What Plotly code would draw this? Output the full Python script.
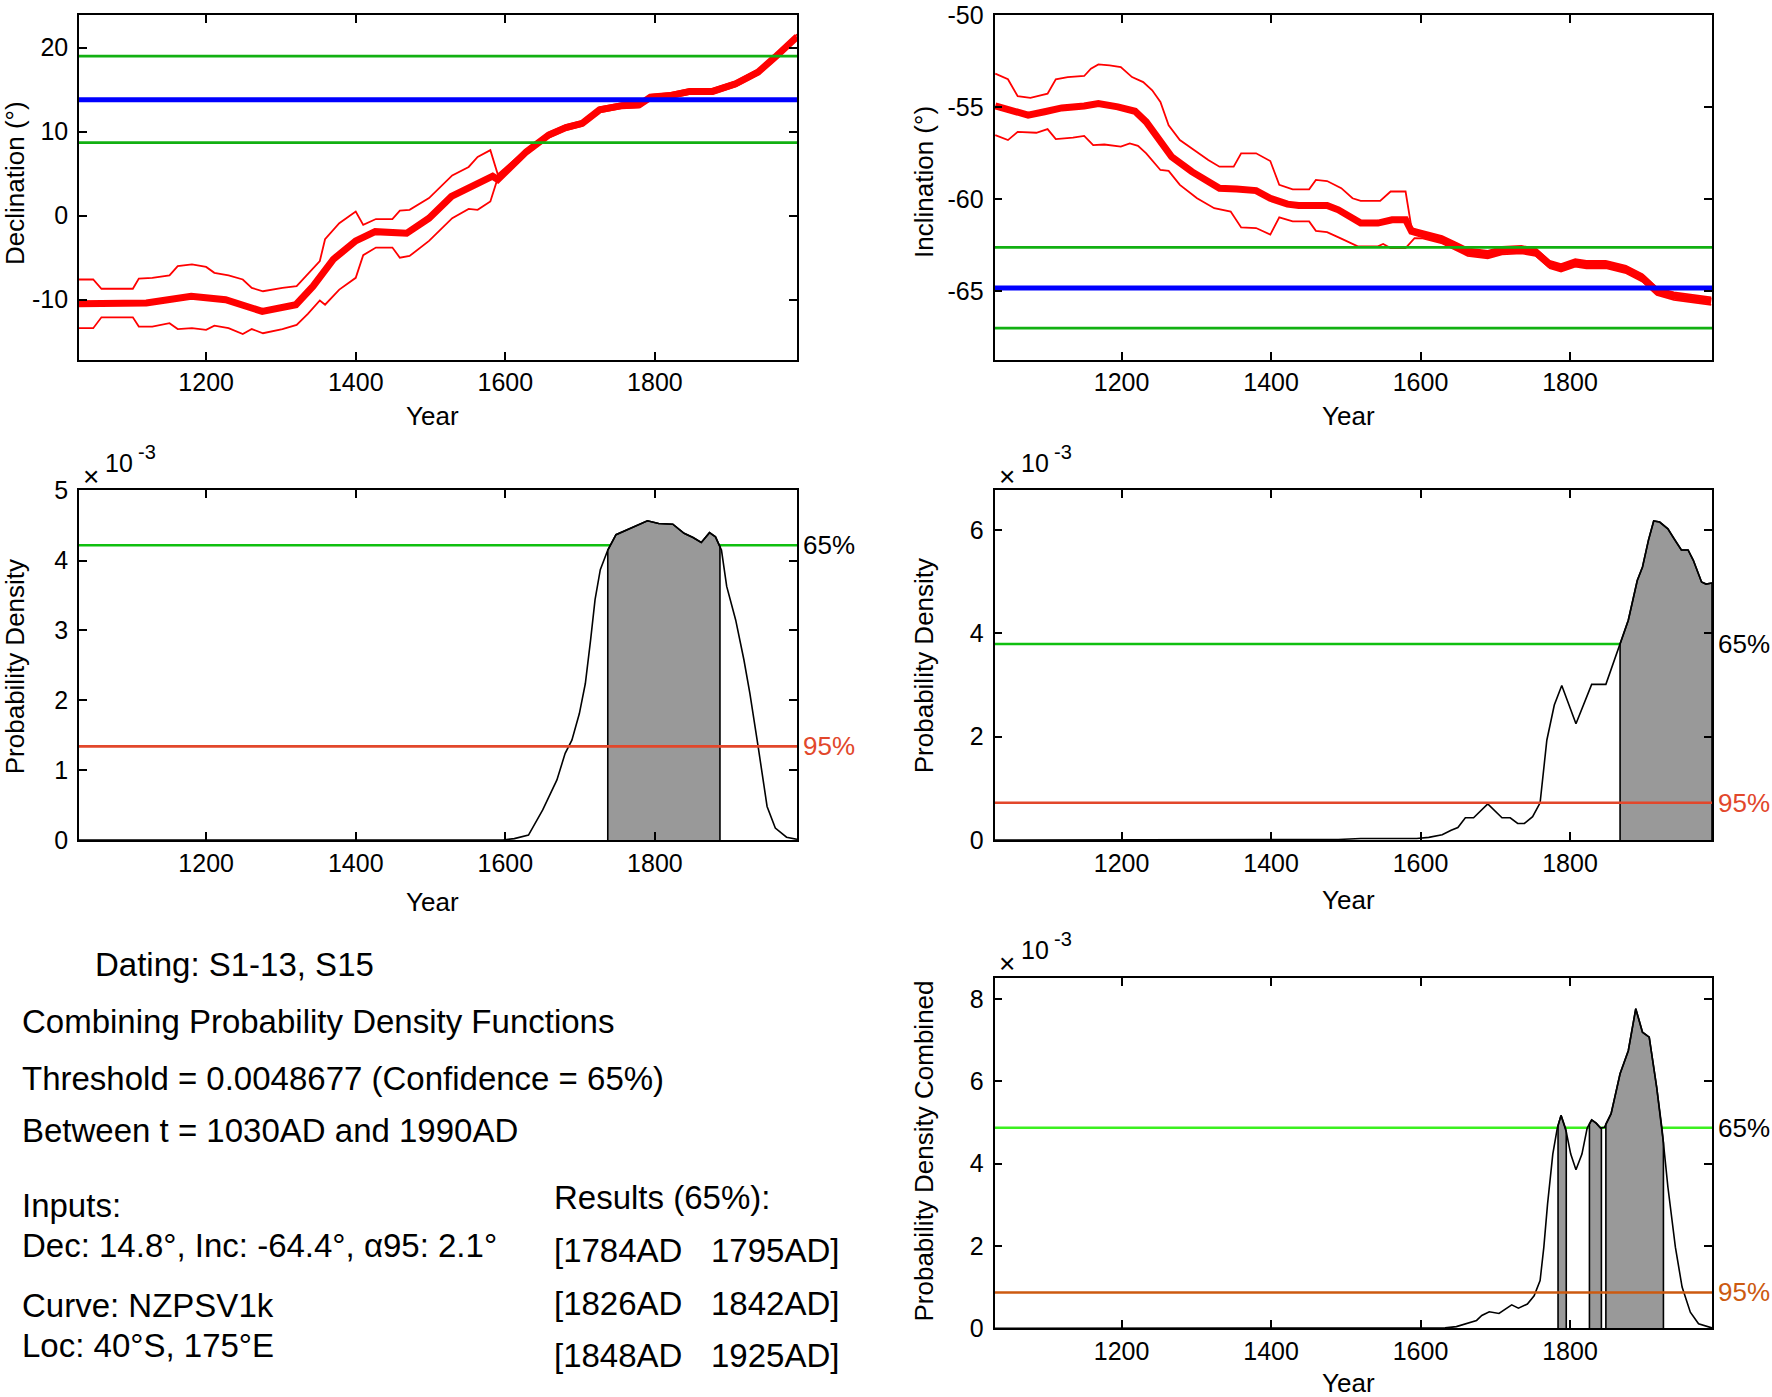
import numpy as np
import plotly.graph_objects as go

W = 1772          # reference width (px)
Y0, HV = 11.8, 1371.0   # vertical placement of the rendered page inside the picture

# ---------------- data ----------------
# Declination curve (NZPSV1k) mean and bounds
dec_years = [1030,1120,1180,1226,1275,1320,1343,1370,1400,1426,1468,1498,1528,1558,1583,1590,1628,1658,1681,1703,1726,1756,1779,1794,1820,1847,1877,1908,1938,1961,1990]
dec_mean = [-10.5,-10.4,-9.6,-10.0,-11.4,-10.6,-8.4,-5.2,-3.0,-1.9,-2.1,-0.3,2.3,3.7,4.7,4.3,7.6,9.6,10.5,11.0,12.6,13.1,13.2,14.1,14.3,14.8,14.8,15.7,17.1,18.9,21.3]
dec_bnd_years = [1030,1049,1060,1102,1110,1128,1151,1162,1181,1200,1211,1230,1249,1261,1276,1302,1321,1336,1352,1359,1378,1400,1410,1427,1449,1459,1472,1498,1529,1551,1563,1580,1590,1628,1658,1681,1703,1726,1756,1779,1794,1820,1847,1877,1908,1938,1961,1990]
dec_upper = [-7.6,-7.6,-8.7,-8.7,-7.5,-7.4,-7.1,-6.0,-5.8,-6.1,-6.8,-7.1,-7.6,-8.6,-9.0,-8.6,-8.4,-7.0,-5.4,-2.8,-0.9,0.5,-1.1,-0.4,-0.4,0.6,0.7,2.1,4.8,5.8,7.0,7.8,4.9,7.9,9.9,10.8,11.3,12.9,13.4,13.5,14.4,14.6,15.1,15.1,16.0,17.4,19.2,21.6]
dec_lower = [-13.4,-13.4,-12.1,-12.1,-13.2,-13.2,-12.8,-13.5,-13.4,-13.6,-13.1,-13.4,-14.1,-13.5,-14.0,-13.5,-13.0,-11.7,-10.1,-10.6,-8.8,-7.4,-4.7,-3.8,-3.8,-5.0,-4.8,-3.0,-0.3,0.8,0.7,1.7,4.5,7.3,9.3,10.2,10.7,12.3,12.8,12.9,13.8,14.0,14.5,14.5,15.4,16.8,18.6,21.0]
dec_input = 13.8
dec_limits = [8.7, 19.0]
dec_ticks = [-10, 0, 10, 20]
dec_ticktext = ["-10", "0", "10", "20"]

# Inclination curve mean and bounds
inc_years = [1031,1048,1075,1097,1120,1150,1169,1195,1218,1233,1248,1267,1294,1316,1331,1354,1380,1399,1422,1437,1475,1490,1505,1520,1543,1562,1580,1588,1603,1629,1648,1663,1690,1709,1735,1754,1773,1788,1807,1822,1848,1875,1897,1916,1939,1965,1989]
inc_mean = [-54.92,-55.15,-55.42,-55.24,-55.03,-54.92,-54.79,-54.97,-55.21,-55.79,-56.69,-57.69,-58.50,-59.04,-59.40,-59.44,-59.53,-59.95,-60.27,-60.34,-60.34,-60.58,-60.94,-61.30,-61.30,-61.12,-61.12,-61.75,-61.93,-62.21,-62.57,-62.88,-63.02,-62.80,-62.75,-62.88,-63.56,-63.74,-63.47,-63.56,-63.56,-63.83,-64.29,-65.01,-65.28,-65.42,-65.55]
inc_up_years = [1031,1048,1061,1078,1101,1112,1128,1150,1159,1169,1184,1199,1214,1229,1241,1252,1263,1278,1297,1316,1331,1350,1360,1380,1399,1411,1429,1451,1460,1475,1494,1509,1520,1546,1560,1580,1588,1603,1629,1648,1663,1690,1709,1735,1754,1773,1788,1807,1822,1848,1875,1897,1916,1939,1965,1989]
inc_upper = [-53.16,-53.47,-54.39,-54.48,-54.25,-53.47,-53.35,-53.29,-52.89,-52.66,-52.71,-52.80,-53.35,-53.62,-54.07,-54.70,-55.97,-56.78,-57.32,-57.87,-58.23,-58.23,-57.50,-57.50,-57.92,-59.22,-59.46,-59.46,-58.95,-59.01,-59.40,-59.95,-60.09,-60.09,-59.58,-59.58,-61.57,-61.73,-62.01,-62.37,-62.68,-62.82,-62.60,-62.55,-62.68,-63.36,-63.54,-63.27,-63.36,-63.36,-63.63,-64.09,-64.81,-65.08,-65.22,-65.35]
inc_lo_years = [1031,1048,1061,1086,1101,1112,1135,1150,1162,1177,1199,1211,1222,1233,1252,1263,1278,1301,1324,1346,1360,1380,1399,1411,1429,1451,1460,1475,1494,1516,1543,1550,1560,1580,1592,1603,1629,1648,1663,1690,1709,1735,1754,1773,1788,1807,1822,1848,1875,1897,1916,1939,1965,1989]
inc_lower = [-56.51,-56.78,-56.33,-56.38,-56.18,-56.73,-56.65,-56.55,-57.05,-57.02,-57.14,-56.96,-57.09,-57.50,-58.41,-58.46,-59.22,-59.95,-60.49,-60.67,-61.54,-61.57,-61.93,-60.99,-61.21,-61.21,-61.72,-61.79,-62.15,-62.57,-62.57,-62.44,-62.66,-62.66,-62.12,-62.13,-62.41,-62.77,-63.08,-63.22,-63.00,-62.95,-63.08,-63.76,-63.94,-63.67,-63.76,-63.76,-64.03,-64.49,-65.21,-65.48,-65.62,-65.75]
inc_input = -64.83
inc_limits = [-62.62, -67.02]
inc_ticks = [-65, -60, -55, -50]
inc_ticktext = ["-65", "-60", "-55", "-50"]

# Probability densities (x 10^-3)
dpdf_years = [1030,1597,1612,1631,1650,1669,1680,1689,1699,1707,1714,1720,1727,1737,1748,1764,1790,1805,1824,1839,1851,1862,1873,1881,1889,1896,1908,1919,1927,1938,1950,1961,1976,1990]
dec_pdf = [0,0,0.02,0.07,0.43,0.86,1.24,1.43,1.81,2.24,2.86,3.44,3.87,4.15,4.37,4.45,4.57,4.53,4.52,4.39,4.33,4.26,4.40,4.34,4.15,3.63,3.15,2.58,2.10,1.34,0.48,0.17,0.04,0.01]
dec_thr = {"65%": 4.22, "95%": 1.34}
dec_intervals = [[1737, 1887]]

ipdf_years = [1030,1490,1520,1565,1595,1611,1629,1641,1650,1660,1671,1690,1701,1709,1720,1730,1739,1750,1760,1769,1779,1789,1808,1829,1848,1867,1878,1890,1897,1905,1912,1920,1931,1939,1949,1958,1965,1976,1982,1990]
inc_pdf = [0,0.01,0.03,0.03,0.03,0.05,0.10,0.19,0.24,0.43,0.43,0.70,0.55,0.43,0.43,0.32,0.32,0.45,0.72,1.93,2.61,2.99,2.25,3.01,3.01,3.79,4.25,5.02,5.28,5.80,6.17,6.15,6.02,5.83,5.61,5.61,5.41,4.99,4.95,4.97]
inc_thr = {"65%": 3.79, "95%": 0.72}
inc_intervals = [[1867, 1990]]

cpdf_years = [1030,1633,1648,1663,1675,1682,1692,1705,1716,1722,1731,1743,1752,1760,1765,1770,1777,1783,1788,1794,1801,1808,1816,1823,1829,1835,1841,1846,1855,1867,1878,1888,1897,1906,1916,1923,1931,1941,1950,1961,1972,1990]
comb_pdf = [0,0.01,0.04,0.12,0.19,0.31,0.40,0.36,0.51,0.57,0.49,0.59,0.79,1.16,1.97,3.02,4.23,4.86,5.17,4.86,4.23,3.85,4.23,4.86,5.06,4.98,4.86,4.88,5.21,6.18,6.74,7.76,7.19,7.07,5.85,4.86,3.43,1.97,1.00,0.39,0.11,0.01]
comb_thr = {"65%": 4.8677, "95%": 0.87}
comb_intervals = [[1784, 1795], [1826, 1842], [1848, 1925]]

year_ticks = [1200, 1400, 1600, 1800]

text_lines = [
    ("Dating: S1-13, S15", 93, 964),
    ("Combining Probability Density Functions", 20, 1021),
    ("Threshold = 0.0048677 (Confidence = 65%)", 20, 1078),
    ("Between t = 1030AD and 1990AD", 20, 1130),
    ("Inputs:", 20, 1205),
    ("Dec: 14.8°, Inc: -64.4°, α95: 2.1°", 20, 1245),
    ("Curve: NZPSV1k", 20, 1305),
    ("Loc: 40°S, 175°E", 20, 1345),
    ("Results (65%):", 552, 1197),
]
result_rows = [("[1784AD", "1795AD]", 1250), ("[1826AD", "1842AD]", 1303), ("[1848AD", "1925AD]", 1355)]

# ---------------- styling ----------------
FONT = "Liberation Sans, Arial, sans-serif"
TICKF = 25
AX = 26
TXT = 33
RED = "#ff0000"
BLUE = "#0000ff"
GREEN_TOP = "#12b012"
GREEN_PDF = "#10c010"
RED_PDF = "#e2472b"
GREEN_C = "#3cf020"
RED_C = "#cc5a10"
GRAY = "#999999"

def fy(t):
    # picture pixel row (from top) -> paper fraction
    return min(1.0, max(0.0, 1 - (t - Y0) / HV))

def px(x, y):
    return x / W, fy(y)

xA = [79 / W, 797 / W]
xB = [994.5 / W, 1712 / W]
r1 = [fy(358), fy(13.2)]
r2 = [fy(839), fy(488.5)]
r3 = [fy(1328), fy(977)]

fig = go.Figure()

def line(x, y, xa, ya, color, width):
    fig.add_trace(go.Scatter(x=x, y=y, xaxis=xa, yaxis=ya, mode="lines",
                             line=dict(color=color, width=width), hoverinfo="skip", showlegend=False))

def hline(yv, xa, ya, color, width):
    line([1030, 1990], [yv, yv], xa, ya, color, width)

# Panel 1: declination
line(dec_bnd_years, dec_upper, "x", "y", RED, 1.8)
line(dec_bnd_years, dec_lower, "x", "y", RED, 1.8)
line(dec_years, dec_mean, "x", "y", RED, 7)
for v in dec_limits:
    hline(v, "x", "y", GREEN_TOP, 2.8)
hline(dec_input, "x", "y", BLUE, 5)

# Panel 2: inclination
line(inc_up_years, inc_upper, "x2", "y2", RED, 1.8)
line(inc_lo_years, inc_lower, "x2", "y2", RED, 1.8)
line(inc_years, inc_mean, "x2", "y2", RED, 7)
for v in inc_limits:
    hline(v, "x2", "y2", GREEN_TOP, 2.8)
hline(inc_input, "x2", "y2", BLUE, 5)

def pdf_panel(xs, ys, intervals, thr, xa, ya, gcol, rcol):
    xs = np.array(xs, float)
    ys = np.array(ys, float)
    hline(thr["65%"], xa, ya, gcol, 2.6)
    for a, b in intervals:
        m = (xs > a) & (xs < b)
        px_ = np.concatenate([[a, a], xs[m], [b, b]])
        py_ = np.concatenate([[0, np.interp(a, xs, ys)], ys[m], [np.interp(b, xs, ys), 0]])
        fig.add_trace(go.Scatter(x=px_, y=py_, xaxis=xa, yaxis=ya, mode="lines", fill="toself",
                                 fillcolor=GRAY, line=dict(color="black", width=1.6),
                                 hoverinfo="skip", showlegend=False))
    line(xs, ys, xa, ya, "black", 1.6)
    hline(thr["95%"], xa, ya, rcol, 2.6)

pdf_panel(dpdf_years, dec_pdf, dec_intervals, dec_thr, "x3", "y3", GREEN_PDF, RED_PDF)
pdf_panel(ipdf_years, inc_pdf, inc_intervals, inc_thr, "x4", "y4", GREEN_PDF, RED_PDF)
pdf_panel(cpdf_years, comb_pdf, comb_intervals, comb_thr, "x5", "y5", GREEN_C, RED_C)

def xax(dom, anchor):
    return dict(domain=dom, anchor=anchor, range=[1030, 1990], tickvals=year_ticks,
                ticks="inside", ticklen=8, tickwidth=1.5, tickcolor="black",
                showline=True, linecolor="black", linewidth=1.6, mirror="ticks",
                showgrid=False, zeroline=False, tickfont=dict(family=FONT, size=TICKF, color="black"),
                ticklabelstandoff=0, fixedrange=True)

def yax(dom, anchor, rng, tv, tt=None):
    d = dict(domain=dom, anchor=anchor, range=rng, tickvals=tv,
             ticks="inside", ticklen=8, tickwidth=1.5, tickcolor="black",
             showline=True, linecolor="black", linewidth=1.6, mirror="ticks",
             showgrid=False, zeroline=False, tickfont=dict(family=FONT, size=TICKF, color="black"),
             ticklabelstandoff=4, fixedrange=True)
    if tt is not None:
        d["ticktext"] = tt
    return d

fig.update_layout(
    autosize=True, margin=dict(l=0, r=0, t=0, b=0, pad=0),
    paper_bgcolor="white", plot_bgcolor="white", showlegend=False,
    font=dict(family=FONT, color="black"),
    xaxis=xax(xA, "y"), yaxis=yax(r1, "x", [-17.15, 23.85], dec_ticks, dec_ticktext),
    xaxis2=xax(xB, "y2"), yaxis2=yax(r1, "x2", [-68.74, -49.99], inc_ticks, inc_ticktext),
    xaxis3=xax(xA, "y3"), yaxis3=yax(r2, "x3", [0, 5.01], [0, 1, 2, 3, 4, 5]),
    xaxis4=xax(xB, "y4"), yaxis4=yax(r2, "x4", [0, 6.77], [0, 2, 4, 6]),
    xaxis5=xax(xB, "y5"), yaxis5=yax(r3, "x5", [0, 8.51], [0, 2, 4, 6, 8]),
)

ann = []
def txt(s, x, y, size, anchor="left", angle=0, color="black"):
    ax, ay = px(x, y)
    ann.append(dict(text=s, x=ax, y=ay, xref="paper", yref="paper", showarrow=False,
                    xanchor=anchor if angle == 0 else "center", yanchor="middle", textangle=angle,
                    font=dict(family=FONT, size=size, color=color)))

# axis titles
for (x, y) in [(432, 414), (1348, 414), (432, 901), (1348, 899), (1348, 1390)]:
    txt("Year", x, y, AX, anchor="center")
txt("Declination (°)", 15, 181, AX, angle=-90)
txt("Inclination (°)", 924, 180, AX, angle=-90)
txt("Probability Density", 15, 666, AX, angle=-90)
txt("Probability Density", 924, 665, AX, angle=-90)
txt("Probability Density Combined", 924, 1151, AX, angle=-90)

# exponent labels
for (x, y) in [(91, 475), (1007, 475), (1007, 963)]:
    txt("×", x, y, 28, anchor="center")
    txt("10", x + 12, y - 14, 25, anchor="left")
    txt("-3", x + 45, y - 25, 20, anchor="left")

# threshold labels
for xa, ya, thr, rcol in [("x3", "y3", dec_thr, RED_PDF), ("x4", "y4", inc_thr, RED_PDF), ("x5", "y5", comb_thr, RED_C)]:
    for key, col in [("65%", "black"), ("95%", rcol)]:
        ann.append(dict(text=key, xref=xa + " domain", x=1, xshift=4, yref=ya, y=thr[key],
                        xanchor="left", yanchor="middle", showarrow=False,
                        font=dict(family=FONT, size=AX, color=col)))

# text block
for s, x, y in text_lines:
    txt(s, x, y, TXT)
for a, b, y in result_rows:
    txt(a, 552, y, TXT)
    txt(b, 709, y, TXT)

fig.update_layout(annotations=ann)

fig.write_html(
    "out.html",
    config={"displayModeBar": False, "responsive": True},
    default_width="100vw", default_height="100vh",
    post_script="document.documentElement.style.margin='0';document.body.style.margin='0';"
                "document.body.style.overflow='hidden';"
                "var gd=document.getElementById('{plot_id}');gd.style.width='100vw';gd.style.height='100vh';"
                "Plotly.Plots.resize(gd);",
)
